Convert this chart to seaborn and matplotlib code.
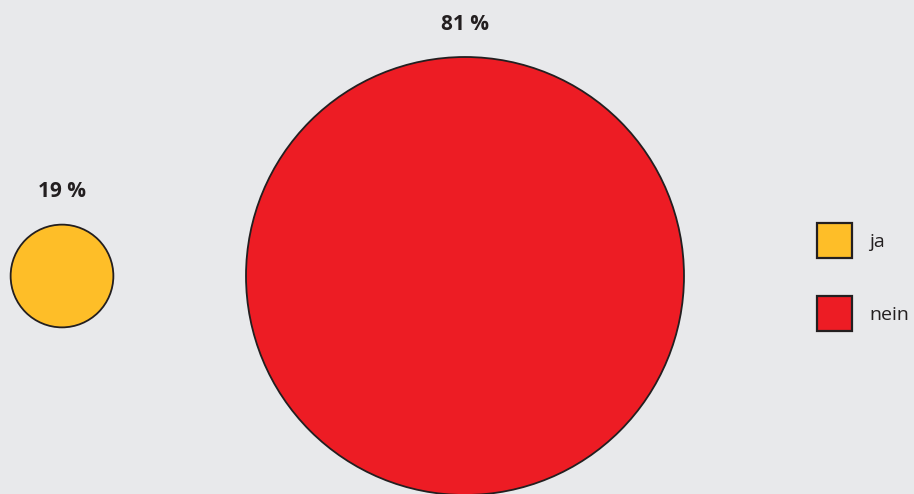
import matplotlib
matplotlib.use("Agg")
import matplotlib.pyplot as plt
from matplotlib.patches import Circle, Rectangle
import seaborn as sns

# Umfrageergebnis
categories = ["ja", "nein"]
values = [19, 81]
labels = ["19 %", "81 %"]
colors = ["#FEBE28", "#ED1C24"]

sns.set_theme(style="white")
plt.rcParams["font.family"] = ["Open Sans", "DejaVu Sans"]

BG = "#E8E9EB"
EDGE = "#231F20"

fig = plt.figure(figsize=(9.14, 4.94), dpi=100, facecolor=BG)
ax = fig.add_axes([0, 0, 1, 1])
ax.set_facecolor(BG)
ax.set_xlim(0, 914)
ax.set_ylim(494, 0)
ax.set_aspect("equal")
ax.axis("off")

# radius proportional to the share
scale = 219 / 81
centers_x = [62, 465]
center_y = 276

for cx, v, lab, col in zip(centers_x, values, labels, colors):
    r = v * scale
    ax.add_patch(Circle((cx, center_y), r, facecolor=col, edgecolor=EDGE,
                        linewidth=1.3, zorder=2))
    ax.text(cx, center_y - r - 33, lab, ha="center", va="center",
            fontsize=15, fontweight="bold", color="#231F20", zorder=3)

# legend
leg_y = [240.5, 313.5]
for cat, col, y in zip(categories, colors, leg_y):
    ax.add_patch(Rectangle((817, y - 17.5), 35, 35, facecolor=col,
                           edgecolor=EDGE, linewidth=1.6, zorder=3))
    ax.text(869, y + 1, cat, ha="left", va="center", fontsize=14,
            color="#231F20", zorder=3)

fig.savefig("out.png", dpi=100, facecolor=BG)
